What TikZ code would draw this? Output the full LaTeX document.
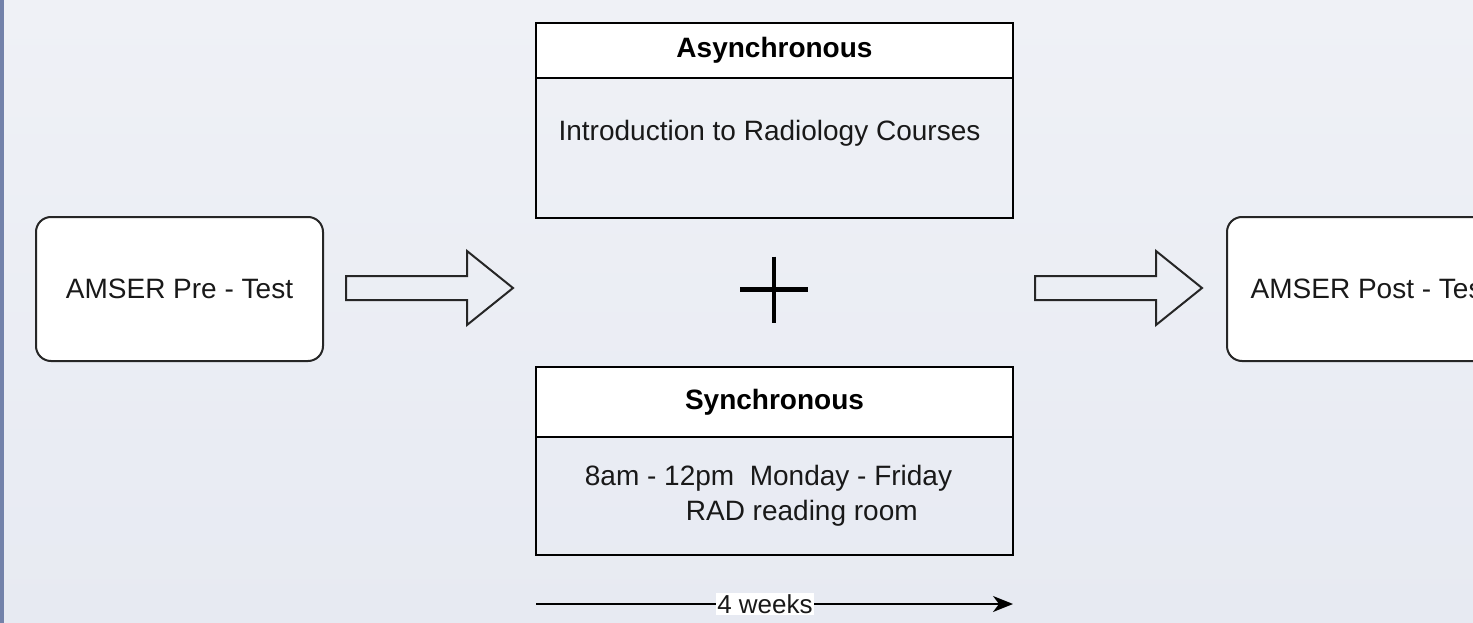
\documentclass[tikz,border=0pt]{standalone}
\usepackage{fontspec}
\setmainfont{Liberation Sans}
\usepackage{tikz}
\usetikzlibrary{arrows.meta, positioning, calc}
\usepackage{xcolor}
\definecolor{hgoben}{HTML}{EFF1F6}
\definecolor{hgunten}{HTML}{E7EAF2}
\definecolor{randstreifen}{HTML}{7382AA}
\definecolor{linie}{HTML}{262626}
\tikzset{>=Latex}
\tikzset{
  testbox/.style={draw=linie, line width=2pt, fill=white, rounded corners=15pt,
    minimum width=287pt, minimum height=144pt, font=\fontsize{28}{34}\selectfont, text=black!90},
  kopf/.style={draw=black, line width=2.2pt, fill=white, minimum width=477pt, outer sep=0pt,
    font=\bfseries\fontsize{28}{34}\selectfont},
  rumpf/.style={draw=black, line width=2.2pt, minimum width=477pt, outer sep=0pt},
  inhalt/.style={font=\fontsize{28}{35}\selectfont, text=black!90},
  blockpfeil/.style={draw=linie, line width=2pt, line join=miter}
}

\begin{document}
\begin{tikzpicture}[x=1pt, y=-1pt, >=Stealth]

            % Hintergrund mit Verlauf
            \shade[top color=hgoben, bottom color=hgunten] (0,0) rectangle (1473,623);
            \useasboundingbox (0,0) rectangle (1473,623);
            \fill[randstreifen] (0,0) rectangle (4,623);

            % Tests links und rechts
            \node[testbox] (pre) at (179.5,289) {AMSER Pre - Test};
            \node[testbox] (post) at (1370.5,289) {AMSER Post - Test};

            % asynchroner Block
            \node[kopf, minimum height=55pt] (asynkopf) at (774.5,50.5) {Asynchronous};
            \node[rumpf, minimum height=140pt, below=0pt of asynkopf] (asynrumpf) {};
            \node[inhalt] (asyntext) at ($(asynrumpf.north)+(-5,55)$) {Introduction to Radiology Courses};

            % Pluszeichen dazwischen
            \coordinate (plus) at (774,289.5);
            \draw[line width=4.5pt] ($(plus)+(-34,0)$) -- ($(plus)+(34,0)$);
            \draw[line width=4.5pt] ($(plus)+(0,-33)$) -- ($(plus)+(0,33)$);

            % synchroner Block
            \node[kopf, minimum height=70pt] (synkopf) at (774.5,402) {Synchronous};
            \node[rumpf, minimum height=118pt, below=0pt of synkopf] (synrumpf) {};
            \node[inhalt, align=left] (syntext) at ($(synrumpf.center)+(-6,0)$)
              {8am - 12pm\ \ Monday - Friday\\\hspace*{101pt}RAD reading room};

            % Blockpfeile
            \coordinate (pfeilA) at ($(pre.east)+(22,-1)$);
            \coordinate (pfeilB) at ($(post.west)+(-191,-1)$);
            \foreach \p in {pfeilA, pfeilB}
              \draw[blockpfeil] ($(\p)+(0,-12)$) -- ($(\p)+(121,-12)$) -- ($(\p)+(121,-37)$)
                -- ($(\p)+(167,0)$) -- ($(\p)+(121,37)$) -- ($(\p)+(121,12)$) -- ($(\p)+(0,12)$) -- cycle;

            % Zeitachse unten
            \coordinate (wstart) at ($(synrumpf.south west)+(0,49)$);
            \coordinate (wende) at ($(synrumpf.south east)+(0,49)$);
            \draw[-{Stealth[length=20pt, width=16pt, inset=6pt]}, line width=2pt] (wstart)
              -- node[pos=0.48, fill=white, inner sep=1pt, font=\fontsize{26}{30}\selectfont, text=black!90] (wochen) {4 weeks} (wende);

         \end{tikzpicture}
\end{document}
